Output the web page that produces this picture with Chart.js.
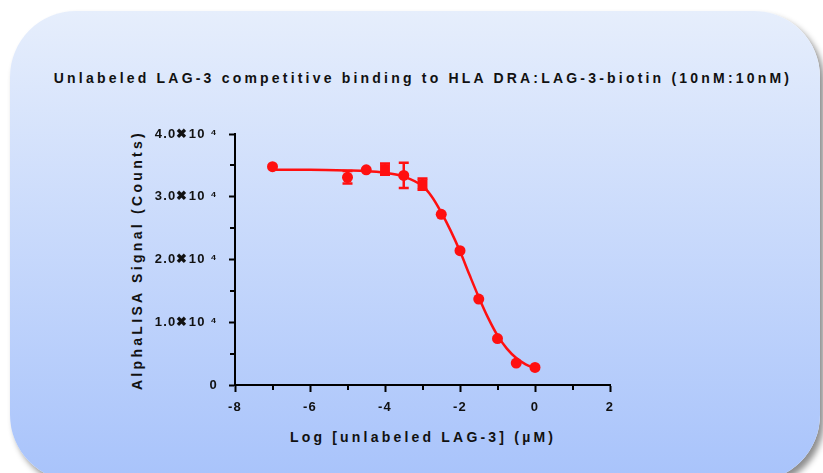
<!DOCTYPE html>
<html>
<head>
<meta charset="utf-8">
<script src="https://cdn.jsdelivr.net/npm/chart.js@4"></script>
<style>
  html, body { margin: 0; padding: 0; width: 823px; height: 473px; overflow: hidden; background: #fff; }
  #panel {
    position: absolute; left: 10px; top: 11px; width: 810px; height: 470px;
    border-radius: 66px;
    background: linear-gradient(to bottom, #e6eefc 0%, #a8c3fb 100%);
    box-shadow: 4px 5px 6px rgba(0,0,0,0.45);
  }
  .lbl { position: absolute; font-family: Arial, "Liberation Sans", sans-serif; font-weight: bold; color: #111; white-space: nowrap; }
  #title { left: 423px; top: 78px; transform: translate(-50%, -50%); font-size: 14px; letter-spacing: 3.2px; }
  #xtitle { left: 423px; top: 437px; transform: translate(-50%, -50%); font-size: 14px; letter-spacing: 3.2px; }
  #ytitle { left: 137px; top: 260px; transform: translate(-50%, -50%) rotate(-90deg); font-size: 14px; letter-spacing: 3.3px; }
  #wrap { position: absolute; left: 0; top: 0; width: 823px; height: 473px; }
</style>
</head>
<body>
<div id="panel"></div>
<div class="lbl" id="title">Unlabeled LAG-3 competitive binding to HLA DRA:LAG-3-biotin (10nM:10nM)</div>
<div class="lbl" id="xtitle">Log [unlabeled LAG-3] (µM)</div>
<div class="lbl" id="ytitle">AlphaLISA Signal (Counts)</div>
<div id="wrap"><canvas id="chart" width="823" height="473"></canvas></div>
<script>
const circleX   = [-7, -5, -4.5, -3.5, -2.5, -2, -1.5, -1, -0.5, 0];
const circleY   = [34800, 33100, 34300, 33400, 27200, 21400, 13700, 7400, 3500, 2800];
const circleErr = [0, 1000, 0, 2000, 0, 0, 0, 0, 0, 0];

const squareX   = [-4, -3];
const squareY   = [34400, 32000];
const squareErr = [900, 900];

// fitted curve
const fitX = [-7, -6, -5, -4.5, -4, -3.5, -3, -2.75, -2.5, -2.25, -2, -1.75, -1.5, -1.25, -1, -0.75, -0.5, -0.25, 0];
const fitY = [34300, 34300, 34200, 34100, 33800, 33200, 31700, 30000, 27500, 24600, 21300, 17600, 14000, 10700, 7900, 5800, 4300, 3300, 2700];

// axis ticks
const xMajor = [-8, -6, -4, -2, 0, 2];
const xMinor = [-7, -5, -3, -1, 1];
const yMajor = [0, 10000, 20000, 30000, 40000];
const yMinor = [5000, 15000, 25000, 35000];
const yTickText = ['0', '1.0✖10 ⁴', '2.0✖10 ⁴', '3.0✖10 ⁴', '4.0✖10 ⁴'];

const red = '#ff1010';
const toXY = (xs, ys) => xs.map((x, i) => ({ x: x, y: ys[i] }));

// error bars + minor ticks
const extras = {
    id: 'extras',
    beforeDraw(chart) {
        chart.ctx.letterSpacing = '1.2px';
    },
    afterDatasetsDraw(chart) {
        const ctx = chart.ctx;
        const xs = chart.scales.x, ys = chart.scales.y;
        ctx.save();
        ctx.strokeStyle = red;
        ctx.lineWidth = 2.5;
        const bars = (xv, yv, ev) => {
            xv.forEach((x, i) => {
                if (!ev[i]) return;
                const px = xs.getPixelForValue(x);
                const top = ys.getPixelForValue(yv[i] + ev[i]);
                const bot = ys.getPixelForValue(yv[i] - ev[i]);
                ctx.beginPath();
                ctx.moveTo(px, top); ctx.lineTo(px, bot);
                ctx.moveTo(px - 5, top); ctx.lineTo(px + 5, top);
                ctx.moveTo(px - 5, bot); ctx.lineTo(px + 5, bot);
                ctx.stroke();
            });
        };
        bars(circleX, circleY, circleErr);
        bars(squareX, squareY, squareErr);
        ctx.restore();
    },
    afterDraw(chart) {
        const ctx = chart.ctx;
        const xs = chart.scales.x, ys = chart.scales.y;
        const area = chart.chartArea;
        ctx.save();
        ctx.strokeStyle = '#000';
        ctx.lineWidth = 2;
        ctx.beginPath();
        xMinor.forEach(v => {
            const px = Math.round(xs.getPixelForValue(v));
            ctx.moveTo(px, area.bottom); ctx.lineTo(px, area.bottom + 5);
        });
        yMinor.forEach(v => {
            const py = Math.round(ys.getPixelForValue(v));
            ctx.moveTo(area.left, py); ctx.lineTo(area.left - 5, py);
        });
        ctx.stroke();
        ctx.restore();
    }
};

const tickFont = { family: 'Arial, "Liberation Sans", sans-serif', size: 13, weight: 'bold' };

new Chart(document.getElementById('chart'), {
    type: 'scatter',
    data: {
        datasets: [
            {
                label: 'fit',
                data: toXY(fitX, fitY),
                showLine: true,
                borderColor: red,
                borderWidth: 2.5,
                pointRadius: 0,
                cubicInterpolationMode: 'monotone',
                fill: false
            },
            {
                label: 'circles',
                data: toXY(circleX, circleY),
                pointStyle: 'circle',
                pointRadius: 5.5,
                backgroundColor: red,
                borderColor: red,
                borderWidth: 0
            },
            {
                label: 'squares',
                data: toXY(squareX, squareY),
                pointStyle: 'rect',
                pointRadius: 7,
                backgroundColor: red,
                borderColor: red,
                borderWidth: 0
            }
        ]
    },
    options: {
        responsive: false,
        animation: false,
        events: [],
        layout: { padding: { left: 0, top: 134, right: 213, bottom: 0 } },
        plugins: { legend: { display: false }, tooltip: { enabled: false }, title: { display: false } },
        scales: {
            x: {
                type: 'linear',
                min: -8, max: 2,
                afterFit: s => { s.height = 88; },
                afterBuildTicks: s => { s.ticks = xMajor.map(v => ({ value: v })); },
                ticks: { color: '#111', font: tickFont, padding: 8, maxRotation: 0, callback: v => String(v) },
                grid: { drawOnChartArea: false, color: '#000', tickLength: 7, tickWidth: 2 },
                border: { color: '#000', width: 2 }
            },
            y: {
                type: 'linear',
                min: 0, max: 40000,
                afterFit: s => { s.width = 235; },
                afterBuildTicks: s => { s.ticks = yMajor.map(v => ({ value: v })); },
                ticks: {
                    color: '#111', font: tickFont, padding: 11,
                    callback: v => yTickText[yMajor.indexOf(v)]
                },
                grid: { drawOnChartArea: false, color: '#000', tickLength: 6, tickWidth: 2 },
                border: { color: '#000', width: 2 }
            }
        }
    },
    plugins: [extras]
});
</script>
</body>
</html>
